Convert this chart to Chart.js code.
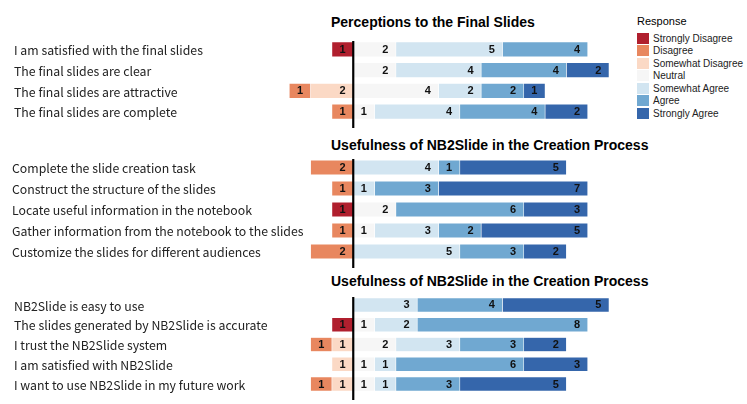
<!DOCTYPE html>
<html>
<head>
<meta charset="utf-8">
<script src="https://cdn.jsdelivr.net/npm/chart.js@4.4.0/dist/chart.umd.min.js"></script>
<style>
  body { margin: 0; width: 747px; height: 404px; position: relative; overflow: hidden; background: #fff; }
  .panel { position: absolute; left: 0; width: 747px; }
  .title { position: absolute; left: 331px; font: bold 14px "Liberation Sans", Arial, sans-serif; color: #000; white-space: nowrap; line-height: 16px; }
  #legend { position: absolute; left: 637px; top: 14px; font-family: "Liberation Sans", Arial, sans-serif; }
  #legend .head { font-size: 11px; color: #000; margin-bottom: 4px; height: 14px; line-height: 14px; }
  #legend .item { display: flex; align-items: center; height: 12.5px; font-size: 10px; color: #222; white-space: nowrap; }
  #legend .box { width: 12px; height: 11px; margin-right: 4px; }
</style>
</head>
<body>
<div class="title" style="top:14px">Perceptions to the Final Slides</div>
<div class="title" style="top:137px">Usefulness of NB2Slide in the Creation Process</div>
<div class="title" style="top:273px">Usefulness of NB2Slide in the Creation Process</div>
<div id="legend"></div>

<div class="panel" style="top:39px;height:91px"><canvas id="finalChart"></canvas></div>
<div class="panel" style="top:157px;height:113px"><canvas id="creationChart"></canvas></div>
<div class="panel" style="top:295px;height:109px"><canvas id="systemChart"></canvas></div>

<script>
// Response scale, in legend order
const responses = ['Strongly Disagree', 'Disagree', 'Somewhat Disagree', 'Neutral', 'Somewhat Agree', 'Agree', 'Strongly Agree'];
const responseColors = ['#b01f2e', '#e8875f', '#fbd9c5', '#f6f6f6', '#d2e5f1', '#70a8d1', '#3566ab'];
const negativeResponses = 3; // first three go to the left of zero

// Panel 1: Perceptions to the Final Slides
const finalItems = [
    'I am satisfied with the final slides',
    'The final slides are clear',
    'The final slides are attractive',
    'The final slides are complete'
];
const finalCounts = [
    [1, 0, 0, 2, 5, 4, 0],
    [0, 0, 0, 2, 4, 4, 2],
    [0, 1, 2, 4, 2, 2, 1],
    [0, 1, 0, 1, 4, 4, 2]
];

// Panel 2: Usefulness in the creation process
const creationItems = [
    'Complete the slide creation task',
    'Construct the structure of the slides',
    'Locate useful information in the notebook',
    'Gather information from the notebook to the slides',
    'Customize the slides for different audiences'
];
const creationCounts = [
    [0, 2, 0, 0, 4, 1, 5],
    [0, 1, 0, 0, 1, 3, 7],
    [1, 0, 0, 2, 0, 6, 3],
    [0, 1, 0, 1, 3, 2, 5],
    [0, 2, 0, 0, 5, 3, 2]
];

// Panel 3: about the system
const systemItems = [
    'NB2Slide is easy to use',
    'The slides generated by NB2Slide is accurate',
    'I trust the NB2Slide system',
    'I am satisfied with NB2Slide',
    'I want to use NB2Slide in my future work'
];
const systemCounts = [
    [0, 0, 0, 0, 3, 4, 5],
    [1, 0, 0, 1, 2, 8, 0],
    [0, 1, 1, 2, 3, 3, 2],
    [0, 0, 1, 1, 1, 6, 3],
    [0, 1, 1, 1, 1, 3, 5]
];

const xMin = -4;
const xMax = 12;

// Legend
const legendEl = document.getElementById('legend');
legendEl.innerHTML = '<div class="head">Response</div>' + responses.map(function(name, i) {
    return '<div class="item"><span class="box" style="background:' + responseColors[i] + '"></span>' + name + '</div>';
}).join('');

// Zero line through the middle of each panel
const zeroLine = {
    id: 'zeroLine',
    afterDatasetsDraw(chart) {
        const x = chart.scales.x.getPixelForValue(0);
        const area = chart.chartArea;
        const ctx = chart.ctx;
        ctx.save();
        ctx.strokeStyle = '#000';
        ctx.lineWidth = 2.2;
        ctx.beginPath();
        ctx.moveTo(x, area.top + 2);
        ctx.lineTo(x, area.bottom + 6);
        ctx.stroke();
        ctx.restore();
    }
};

// Statement text, left aligned at the panel edge (y axis labels would get clipped)
const itemLabels = {
    id: 'itemLabels',
    afterDraw(chart, args, opts) {
        const ys = chart.scales.y;
        const ctx = chart.ctx;
        ctx.save();
        ctx.font = '12.3px "Noto Sans CJK SC", "Noto Sans", sans-serif';
        ctx.fillStyle = '#222';
        ctx.textAlign = 'left';
        ctx.textBaseline = 'middle';
        chart.data.labels.forEach(function(label, i) {
            ctx.fillText(label, opts.left, ys.getPixelForValue(i) + 1);
        });
        ctx.restore();
    }
};

// Count written near the right end of each segment
const segmentLabels = {
    id: 'segmentLabels',
    afterDraw(chart) {
        const xs = chart.scales.x;
        const unit = xs.getPixelForValue(1) - xs.getPixelForValue(0);
        const ctx = chart.ctx;
        ctx.save();
        ctx.font = 'bold 11px "Liberation Sans", Arial, sans-serif';
        ctx.fillStyle = '#111';
        ctx.textAlign = 'center';
        ctx.textBaseline = 'middle';
        chart.data.datasets.forEach(function(ds, i) {
            chart.getDatasetMeta(i).data.forEach(function(bar, j) {
                const v = Math.abs(ds.data[j]);
                if (!v) return;
                const right = Math.max(bar.x, bar.base);
                ctx.fillText(String(v), right - unit / 2, bar.y + 0.5);
            });
        });
        ctx.restore();
    }
};

function buildDatasets(counts) {
    // negatives stack outward from zero: Somewhat Disagree first
    const order = [2, 1, 0, 3, 4, 5, 6];
    return order.map(function(r) {
        return {
            label: responses[r],
            data: counts.map(function(row) { return r < negativeResponses ? -row[r] : row[r]; }),
            backgroundColor: responseColors[r],
            borderColor: 'rgba(255,255,255,0.7)',
            borderWidth: 0.6,
            borderSkipped: false
        };
    });
}

function makePanel(id, items, counts, labelLeft, barThickness, bottomPad) {
    new Chart(document.getElementById(id), {
        type: 'bar',
        data: { labels: items, datasets: buildDatasets(counts) },
        options: {
            indexAxis: 'y',
            responsive: true,
            maintainAspectRatio: false,
            animation: false,
            barThickness: barThickness,
            layout: {
                autoPadding: false,
                padding: { left: 268, right: 138, top: 0, bottom: bottomPad }
            },
            plugins: {
                legend: { display: false },
                tooltip: { enabled: false },
                itemLabels: { left: labelLeft }
            },
            scales: {
                x: { stacked: true, min: xMin, max: xMax, display: false },
                y: { stacked: true, display: false }
            }
        },
        plugins: [zeroLine, itemLabels, segmentLabels]
    });
}

makePanel('finalChart', finalItems, finalCounts, 14, 15, 8);
makePanel('creationChart', creationItems, creationCounts, 12, 14.5, 8);
makePanel('systemChart', systemItems, systemCounts, 14, 14, 10);
</script>
</body>
</html>
